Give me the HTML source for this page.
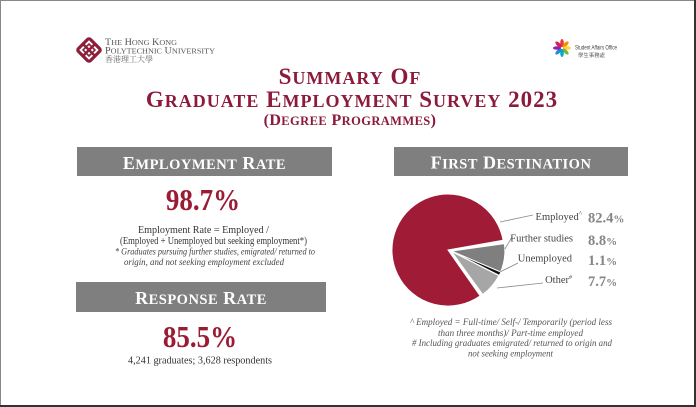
<!DOCTYPE html>
<html><head><meta charset="utf-8"><style>
html,body{margin:0;padding:0;background:#fff;}
body{width:696px;height:407px;overflow:hidden;position:relative;}
svg{display:block;}
</style></head><body>
<svg width="696" height="407" viewBox="0 0 696 407" xmlns="http://www.w3.org/2000/svg" font-family="'Liberation Serif', 'Noto Serif CJK SC', serif">
<rect x="0" y="0" width="696" height="407" fill="#fff"/>
<!-- frame -->
<rect x="0.5" y="0.5" width="694" height="405" fill="none" stroke="#888" stroke-width="1"/>
<line x1="695" y1="0" x2="695" y2="407" stroke="#333" stroke-width="2"/>
<line x1="0" y1="406" x2="696" y2="406" stroke="#333" stroke-width="2"/>

<!-- PolyU logo -->
<g transform="translate(89,50) rotate(45)">
  <rect x="-8.5" y="-8.5" width="17" height="17" fill="none" stroke="#8e1f3a" stroke-width="3.2" rx="2"/>
  <line x1="-8.5" y1="0" x2="8.5" y2="0" stroke="#8e1f3a" stroke-width="2.6"/>
  <line x1="0" y1="-8.5" x2="0" y2="8.5" stroke="#8e1f3a" stroke-width="2.6"/>
  <rect x="-4.2" y="-4.2" width="8.4" height="8.4" fill="none" stroke="#8e1f3a" stroke-width="1.6"/>
</g>
<text x="105" y="45" font-size="9.5" fill="#555" font-family="'Liberation Serif', serif" textLength="72" lengthAdjust="spacingAndGlyphs">T<tspan font-size="7.6">HE</tspan> H<tspan font-size="7.6">ONG</tspan> K<tspan font-size="7.6">ONG</tspan></text>
<text x="105" y="53.5" font-size="9.5" fill="#555" font-family="'Liberation Serif', serif" textLength="110" lengthAdjust="spacingAndGlyphs">P<tspan font-size="7.6">OLYTECHNIC</tspan> U<tspan font-size="7.6">NIVERSITY</tspan></text>
<text x="105" y="62" font-size="8" fill="#666" font-family="'Noto Serif CJK SC', 'Noto Sans CJK SC', serif" textLength="48" lengthAdjust="spacingAndGlyphs">香港理工大學</text>

<!-- SAO logo -->
<g transform="translate(562,48)">
  <ellipse cx="0" cy="-5" rx="1.8" ry="4" fill="#e53935"/>
  <ellipse cx="0" cy="-5" rx="1.8" ry="4" fill="#fb8c00" transform="rotate(45)"/>
  <ellipse cx="0" cy="-5" rx="1.8" ry="4" fill="#fdd835" transform="rotate(90)"/>
  <ellipse cx="0" cy="-5" rx="1.8" ry="4" fill="#7cb342" transform="rotate(135)"/>
  <ellipse cx="0" cy="-5" rx="1.8" ry="4" fill="#00acc1" transform="rotate(180)"/>
  <ellipse cx="0" cy="-5" rx="1.8" ry="4" fill="#1e88e5" transform="rotate(225)"/>
  <ellipse cx="0" cy="-5" rx="1.8" ry="4" fill="#8e24aa" transform="rotate(270)"/>
  <ellipse cx="0" cy="-5" rx="1.8" ry="4" fill="#d81b60" transform="rotate(315)"/>
</g>
<text x="575" y="49.5" font-size="6" fill="#444" font-family="'Liberation Sans', sans-serif" textLength="42" lengthAdjust="spacingAndGlyphs">Student Affairs Office</text>
<text x="578" y="57" font-size="5" fill="#555" font-family="'Noto Sans CJK TC', sans-serif" textLength="27" lengthAdjust="spacingAndGlyphs">學生事務處</text>

<!-- Title -->
<g fill="#8c1a3b" font-weight="bold" text-anchor="middle" letter-spacing="1" font-family="'Liberation Serif', serif">
<text x="350" y="84" font-size="23">S<tspan font-size="18">UMMARY</tspan> O<tspan font-size="18">F</tspan></text>
<text x="352" y="107" font-size="23">G<tspan font-size="18">RADUATE</tspan> E<tspan font-size="18">MPLOYMENT</tspan> S<tspan font-size="18">URVEY</tspan> 2023</text>
<text x="350" y="125" font-size="16" letter-spacing="0.4">(D<tspan font-size="12.5">EGREE</tspan> P<tspan font-size="12.5">ROGRAMMES</tspan>)</text>
</g>

<g font-family="'Liberation Serif', serif">
<!-- Employment rate -->
<rect x="77" y="147" width="255" height="29" fill="#7f7f7f"/>
<text x="204.5" y="169" font-size="18" font-weight="bold" fill="#fff" text-anchor="middle" letter-spacing="0.5">E<tspan font-size="14.5">MPLOYMENT</tspan> R<tspan font-size="14.5">ATE</tspan></text>
<text x="0" y="0" font-size="31" font-weight="bold" fill="#9b1b34" text-anchor="middle" transform="translate(203,210) scale(0.87,1)">98.7%</text>
<text x="138" y="233" font-size="10.3" fill="#333" textLength="131" lengthAdjust="spacingAndGlyphs">Employment Rate = Employed /</text>
<text x="120" y="244" font-size="10.3" fill="#333" textLength="187" lengthAdjust="spacingAndGlyphs">(Employed + Unemployed but seeking employment*)</text>
<text x="115" y="254.5" font-style="italic" font-size="9.8" fill="#444" textLength="200" lengthAdjust="spacingAndGlyphs">* Graduates pursuing further studies, emigrated/ returned to</text>
<text x="124" y="265" font-style="italic" font-size="9.8" fill="#444" textLength="160" lengthAdjust="spacingAndGlyphs">origin, and not seeking employment excluded</text>

<!-- Response rate -->
<rect x="76" y="282" width="250" height="30" fill="#7f7f7f"/>
<text x="201" y="304" font-size="18" font-weight="bold" fill="#fff" text-anchor="middle" letter-spacing="0.5">R<tspan font-size="14.5">ESPONSE</tspan> R<tspan font-size="14.5">ATE</tspan></text>
<text x="0" y="0" font-size="31" font-weight="bold" fill="#9b1b34" text-anchor="middle" transform="translate(200,347) scale(0.87,1)">85.5%</text>
<text x="128" y="363.5" font-size="10.3" fill="#333" textLength="144" lengthAdjust="spacingAndGlyphs">4,241 graduates; 3,628 respondents</text>

<!-- First destination -->
<rect x="394" y="147" width="234" height="29" fill="#7f7f7f"/>
<text x="511" y="168.5" font-size="18" font-weight="bold" fill="#fff" text-anchor="middle" letter-spacing="0.5">F<tspan font-size="14.5">IRST</tspan> D<tspan font-size="14.5">ESTINATION</tspan></text>
</g>

<!-- Pie -->
<path d="M448,250 L480.1,295.9 A56,56 0 1 1 503.1,240.3 Z" fill="#a01b36" stroke="#fff" stroke-width="1"/>
<path d="M451,251 L504.5,243.5 A54,54 0 0 1 500.7,272.1 Z" fill="#7f7f7f" stroke="#fff" stroke-width="1.3"/>
<path d="M451,251 L500.7,272.1 A54,54 0 0 1 499.1,275.5 Z" fill="#111" stroke="#fff" stroke-width="0.8"/>
<path d="M451,251 L499.1,275.5 A54,54 0 0 1 482.7,294.7 Z" fill="#a6a6a6" stroke="#fff" stroke-width="1.3"/>

<!-- leader lines -->
<g stroke="#8a8a8a" stroke-width="0.8" fill="none">
<line x1="500" y1="222" x2="533" y2="215"/>
<line x1="505" y1="249" x2="512" y2="237"/>
<line x1="500" y1="272" x2="518" y2="263"/>
<line x1="497" y1="288" x2="543" y2="283"/>
</g>

<g font-size="10.5" fill="#444" text-anchor="end" font-family="'Liberation Serif', serif">
<text x="582" y="220">Employed<tspan font-size="7" dy="-4">^</tspan></text>
<text x="573" y="241.5">Further studies</text>
<text x="572" y="261.5">Unemployed</text>
<text x="572" y="283">Other<tspan font-size="6" dy="-4">#</tspan></text>
</g>
<g font-size="14.5" font-weight="bold" fill="#858585" font-family="'Liberation Serif', serif">
<text x="588" y="222.5">82.4<tspan font-size="11">%</tspan></text>
<text x="588" y="245">8.8<tspan font-size="11">%</tspan></text>
<text x="588" y="265">1.1<tspan font-size="11">%</tspan></text>
<text x="588" y="286">7.7<tspan font-size="11">%</tspan></text>
</g>

<g font-size="9.8" font-style="italic" fill="#555" font-family="'Liberation Serif', serif">
<text x="410" y="325" textLength="202" lengthAdjust="spacingAndGlyphs">^ Employed = Full-time/ Self-/ Temporarily (period less</text>
<text x="438" y="336" textLength="145" lengthAdjust="spacingAndGlyphs">than three months)/ Part-time employed</text>
<text x="412" y="346" textLength="200" lengthAdjust="spacingAndGlyphs"># Including graduates emigrated/ returned to origin and</text>
<text x="468" y="356.5" textLength="85" lengthAdjust="spacingAndGlyphs">not seeking employment</text>
</g>
</svg>
</body></html>
